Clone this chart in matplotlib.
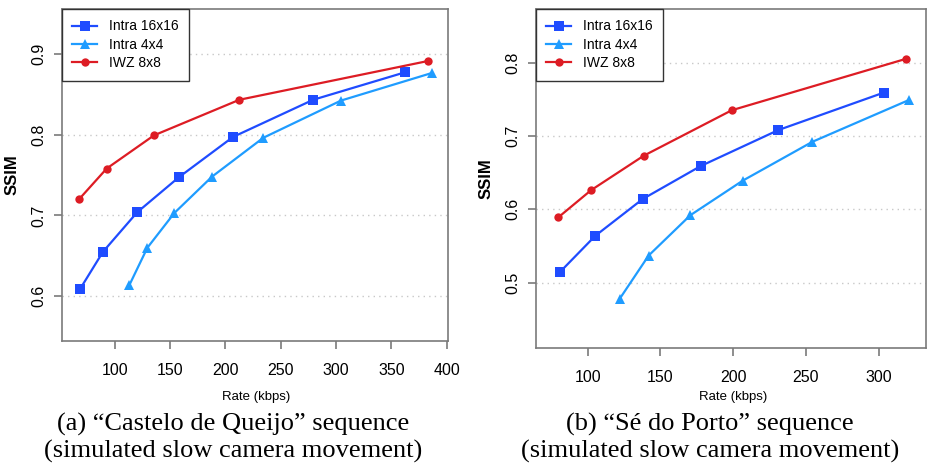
import matplotlib
matplotlib.use("Agg")
import matplotlib.pyplot as plt

# ---- data: panel (a) Castelo de Queijo ----
a_i16_rate = [68.7, 89.4, 120.4, 157.8, 206.9, 279.4, 362.5]
a_i16_ssim = [0.609, 0.655, 0.704, 0.747, 0.797, 0.843, 0.877]
a_i4_rate = [113.3, 129.5, 153.9, 188.0, 234.3, 304.5, 386.4]
a_i4_ssim = [0.614, 0.660, 0.703, 0.748, 0.796, 0.842, 0.876]
a_iwz_rate = [67.8, 92.8, 135.5, 212.7, 383.4]
a_iwz_ssim = [0.720, 0.758, 0.799, 0.843, 0.891]

# ---- data: panel (b) Se do Porto ----
b_i16_rate = [81.2, 105.3, 137.8, 177.7, 231.0, 303.4]
b_i16_ssim = [0.515, 0.564, 0.614, 0.659, 0.708, 0.759]
b_i4_rate = [122.0, 141.9, 170.6, 206.5, 254.4, 320.8]
b_i4_ssim = [0.478, 0.537, 0.592, 0.639, 0.692, 0.749]
b_iwz_rate = [79.8, 102.3, 138.5, 199.0, 318.6]
b_iwz_ssim = [0.589, 0.626, 0.673, 0.735, 0.805]

series_names = ["Intra 16x16", "Intra 4x4", "IWZ 8x8"]
a_xticks = [100, 150, 200, 250, 300, 350, 400]
a_yticks = [0.6, 0.7, 0.8, 0.9]
b_xticks = [100, 150, 200, 250, 300]
b_yticks = [0.5, 0.6, 0.7, 0.8]
captions_1 = ["(a) \u201cCastelo de Queijo\u201d sequence",
              "(b) \u201cS\u00e9 do Porto\u201d sequence"]
captions_2 = ["(simulated slow camera movement)",
              "(simulated slow camera movement)"]

W, H = 932, 468
fig = plt.figure(figsize=(W / 100, H / 100), dpi=100)
plt.rcParams['font.family'] = ['Liberation Sans', 'DejaVu Sans']

def px_axes(l, t, r, b):
    return fig.add_axes([l / W, (H - b) / H, (r - l) / W, (b - t) / H])

c_blue = "#1f4cff"
c_lblue = "#1f9cff"
c_red = "#dd1c24"
frame_c = "#7a7a7a"

def draw(ax, data, xlim, ylim, xticks, yticks, label_xc):
    styles = [(c_blue, 's', 6.5), (c_lblue, '^', 7.5), (c_red, 'o', 6)]
    for (x, y), name, (c, m, ms) in zip(data, series_names, styles):
        ax.plot(x, y, color=c, marker=m, markersize=ms, lw=1.6, label=name,
                markeredgewidth=0, zorder=3)
    ax.set_xlim(*xlim)
    ax.set_ylim(*ylim)
    ax.set_xticks(xticks)
    ax.set_yticks(yticks)
    ax.set_yticklabels([f"{v:.1f}" for v in yticks])
    for s in ax.spines.values():
        s.set_color(frame_c)
        s.set_linewidth(1.2)
    ax.tick_params(axis='both', direction='out', length=6, width=1.2,
                   color=frame_c, labelsize=11.5)
    ax.tick_params(axis='x', pad=9.5)
    ax.tick_params(axis='y', pad=5)
    for lab in ax.get_yticklabels():
        lab.set_rotation(90)
        lab.set_va('center')
    ax.grid(axis='y', linestyle=(0, (1, 3)), color='#c8c8c8', lw=1.0, zorder=0)
    ax.set_ylabel("SSIM", fontsize=12, fontweight='bold', labelpad=9)
    ax.set_xlabel("Rate (kbps)", fontsize=9.5, va='center')
    ax.xaxis.set_label_coords(label_xc / W, 1 - 397 / H, transform=fig.transFigure)
    leg = ax.legend(loc='upper left', borderaxespad=0, fancybox=False,
                    framealpha=1, edgecolor='#333333', fontsize=10,
                    handlelength=1.75, handletextpad=0.9, labelspacing=0.32,
                    borderpad=0.75)
    leg.get_frame().set_linewidth(1.0)

ax1 = px_axes(62, 9, 448, 341)
draw(ax1, [(a_i16_rate, a_i16_ssim), (a_i4_rate, a_i4_ssim), (a_iwz_rate, a_iwz_ssim)],
     (52.4, 401.2), (0.5448, 0.9552), a_xticks, a_yticks, 256)

ax2 = px_axes(536, 9, 926, 348)
draw(ax2, [(b_i16_rate, b_i16_ssim), (b_i4_rate, b_i4_ssim), (b_iwz_rate, b_iwz_ssim)],
     (64.5, 332.5), (0.411, 0.873), b_xticks, b_yticks, 733)

for cx, t1, t2 in zip([233, 710], captions_1, captions_2):
    fig.text(cx / W, 1 - 424 / H, t1, ha='center', va='center',
             fontsize=19, family='Liberation Serif')
    fig.text(cx / W, 1 - 451 / H, t2, ha='center', va='center',
             fontsize=19, family='Liberation Serif')

fig.savefig("out.png", dpi=100)
